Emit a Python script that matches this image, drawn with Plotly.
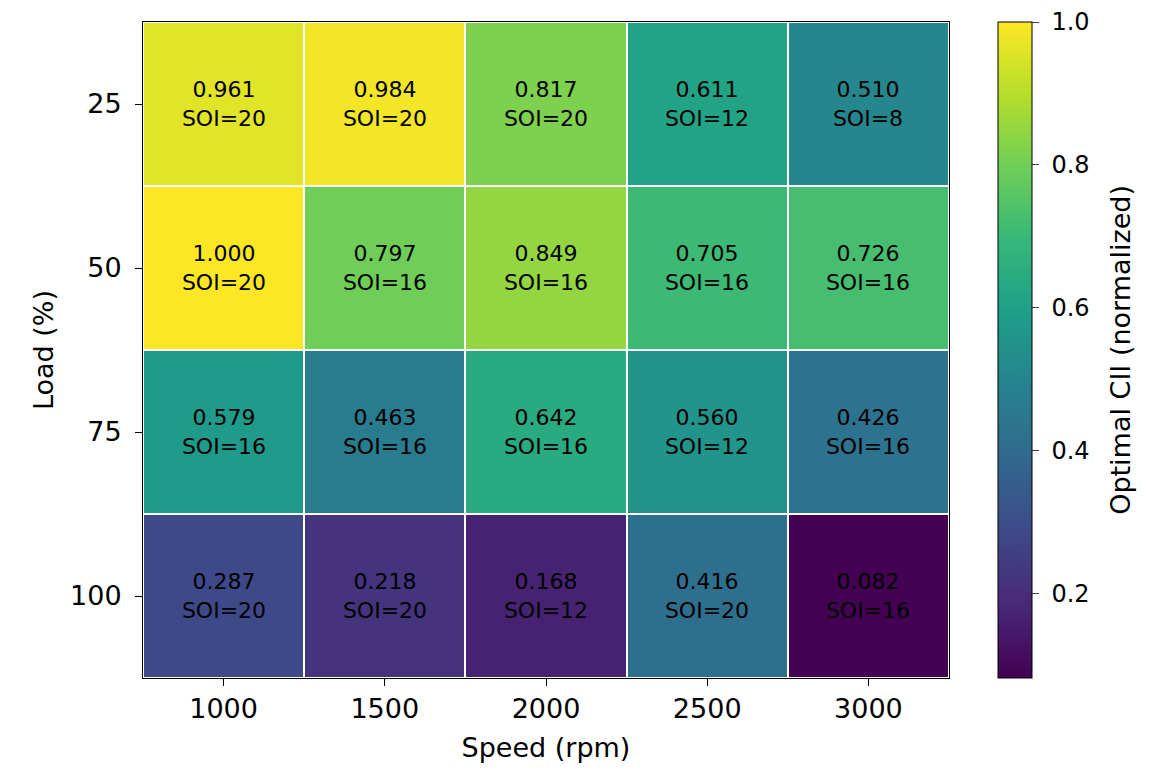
import plotly.graph_objects as go

SPEEDS = [1000, 1500, 2000, 2500, 3000]
LOADS = ["25", "50", "75", "100"]
CII = [
    [0.961, 0.984, 0.817, 0.611, 0.510],
    [1.000, 0.797, 0.849, 0.705, 0.726],
    [0.579, 0.463, 0.642, 0.560, 0.426],
    [0.287, 0.218, 0.168, 0.416, 0.082],
]
SOI = [
    [20, 20, 20, 12, 8],
    [20, 16, 16, 16, 16],
    [16, 16, 16, 12, 16],
    [20, 20, 12, 20, 16],
]
CBAR_TICKS = [0.2, 0.4, 0.6, 0.8, 1.0]

FONT = "DejaVu Sans"

labels = [
    [f"{v:.3f}<br>SOI={s}" for v, s in zip(row_v, row_s)]
    for row_v, row_s in zip(CII, SOI)
]

fig = go.Figure()
fig.add_trace(
    go.Heatmap(
        z=CII,
        x=SPEEDS,
        y=LOADS,
        text=labels,
        texttemplate="%{text}",
        textfont=dict(family=FONT, size=22, color="black"),
        colorscale="Viridis",
        zmin=min(min(r) for r in CII),
        zmax=max(max(r) for r in CII),
        xgap=2,
        ygap=2,
        colorbar=dict(
            x=1.061,
            xanchor="left",
            xpad=0,
            y=0.5,
            ypad=0,
            len=1,
            thickness=34,
            outlinewidth=1,
            outlinecolor="black",
            ticks="outside",
            ticklen=7,
            tickvals=CBAR_TICKS,
            # nbsp pushes the labels a little away from the ticks
            ticktext=["\u00a0" + f"{t:.1f}" for t in CBAR_TICKS],
            tickfont=dict(family=FONT, size=24, color="black"),
        ),
    )
)

# colorbar title placed by hand so it sits where the reference has it
fig.add_annotation(
    text="Optimal CII (normalized)",
    xref="paper",
    yref="paper",
    x=1.212,
    y=0.5,
    xanchor="center",
    yanchor="middle",
    textangle=-90,
    showarrow=False,
    font=dict(family=FONT, size=27, color="black"),
)

fig.update_layout(
    width=1145,
    height=761,
    margin=dict(l=135, r=204, t=14, b=91),
    plot_bgcolor="white",
    paper_bgcolor="white",
    font=dict(family=FONT, color="black"),
)
fig.update_xaxes(
    tickvals=SPEEDS,
    ticks="outside",
    ticklen=7,
    tickcolor="black",
    tickfont=dict(size=27),
    title=dict(text="Speed (rpm)", font=dict(size=27), standoff=14),
    showline=True,
    linecolor="black",
    linewidth=1,
    mirror=True,
    showgrid=False,
    zeroline=False,
)
fig.update_yaxes(
    autorange="reversed",
    ticks="outside",
    ticklen=7,
    tickcolor="black",
    tickfont=dict(size=27),
    ticklabelstandoff=8,
    title=dict(text="Load (%)", font=dict(size=27), standoff=8),
    showline=True,
    linecolor="black",
    linewidth=1,
    mirror=True,
    showgrid=False,
)

fig.write_html("out.html")
